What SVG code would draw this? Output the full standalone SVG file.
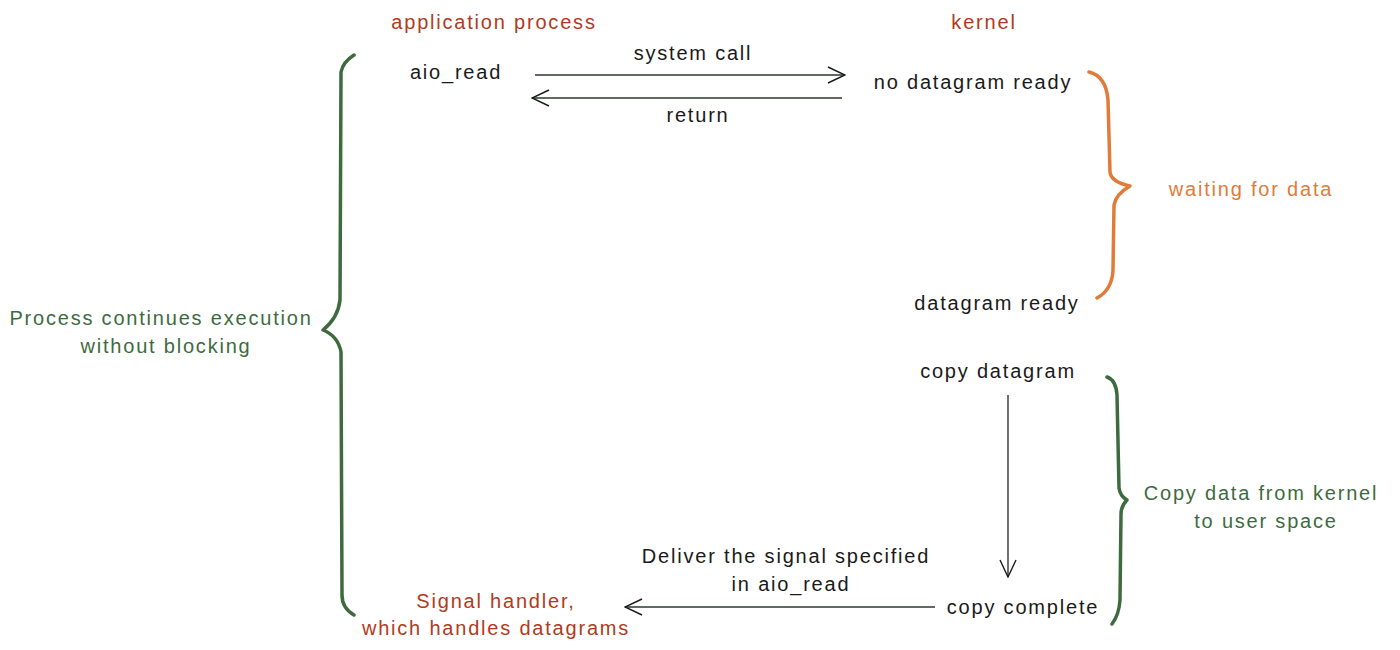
<svg xmlns="http://www.w3.org/2000/svg" width="1400" height="650" viewBox="0 0 1400 650">
<defs>
<style>
text{font-family:"Liberation Sans",Arial,sans-serif;font-size:20px;letter-spacing:1.8px;text-anchor:middle}
.k{fill:#1a1a1a}
.r{fill:#b23a1c}
.o{fill:#e07b39}
.g{fill:#3e6b3e}
.line{stroke:#2b3a2b;stroke-width:1.4;fill:none}
.brace{fill:none;stroke-width:3.5;stroke-linecap:round;stroke-linejoin:round}
</style>
<marker id="ah" viewBox="0 0 20 20" refX="19" refY="10" markerWidth="20" markerHeight="20" markerUnits="userSpaceOnUse" orient="auto">
<path d="M2 2 L19 10 L2 18" fill="none" stroke="#1a1a1a" stroke-width="1.4"/>
</marker>
</defs>
<rect width="1400" height="650" fill="#ffffff"/>

<g id="header-app"><text class="r" x="494" y="29">application process</text></g>
<g id="header-kernel"><text class="r" x="984" y="29">kernel</text></g>

<g id="aio-read"><text class="k" x="456" y="79">aio_read</text></g>
<g id="no-datagram"><text class="k" x="973" y="89">no datagram ready</text></g>
<g id="datagram-ready"><text class="k" x="997" y="310">datagram ready</text></g>
<g id="copy-datagram"><text class="k" x="998" y="378">copy datagram</text></g>
<g id="copy-complete"><text class="k" x="1023" y="614">copy complete</text></g>
<g id="signal-handler">
<text class="r" x="496" y="608">Signal handler,</text>
<text class="r" x="496" y="635">which handles datagrams</text>
</g>

<g id="brace-waiting">
<path class="brace" stroke="#e07b39" d="M1089 72 Q1106 76 1108 100 L1110 172 Q1111 182 1130 186 Q1116 194 1114 205 L1113 270 Q1112 290 1097 298"/>
<text class="o" x="1251" y="196">waiting for data</text>
</g>

<g id="brace-copy">
<path class="brace" stroke="#3e6b3e" d="M1107 377 Q1116 380 1117 395 L1119 488 Q1120 496 1127 500 Q1121 506 1121 514 L1120 600 Q1119 615 1112 624"/>
<text class="g" x="1261" y="500">Copy data from kernel</text>
<text class="g" x="1266" y="528">to user space</text>
</g>

<g id="brace-process">
<path class="brace" stroke="#3e6b3e" d="M354 55 Q343 62 341 72 L340 300 Q338 318 323 330 Q338 336 341 352 L342 595 Q342 608 354 615"/>
<text class="g" x="161" y="325">Process continues execution</text>
<text class="g" x="166" y="353">without blocking</text>
</g>

<g id="connectors">
<line class="line" x1="535" y1="75" x2="845" y2="75" marker-end="url(#ah)"/>
<text class="k" x="693" y="60">system call</text>
<line class="line" x1="842" y1="98" x2="532" y2="98" marker-end="url(#ah)"/>
<text class="k" x="698" y="122">return</text>
<line class="line" x1="1008" y1="395" x2="1008" y2="577" marker-end="url(#ah)"/>
<line class="line" x1="935" y1="607" x2="625" y2="607" marker-end="url(#ah)"/>
<text class="k" x="786" y="563">Deliver the signal specified</text>
<text class="k" x="791" y="591">in aio_read</text>
</g>
</svg>
